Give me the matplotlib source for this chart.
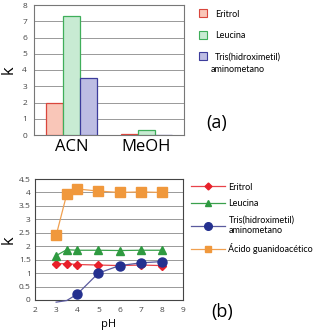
import numpy as np
import matplotlib
matplotlib.use("Agg")
import matplotlib.pyplot as plt
from matplotlib.lines import Line2D

# --- data: panel (a) ---
solvents = ["ACN", "MeOH"]
eritrol_k = [2.0, 0.08]
leucina_k = [7.3, 0.28]
tris_k = [3.5, 0.02]

# --- data: panel (b) ---
ph = [3, 3.5, 4, 5, 6, 7, 8]
eritrol_ph = [1.35, 1.35, 1.32, 1.30, 1.28, 1.30, 1.28]
leucina_ph = [1.65, 1.87, 1.85, 1.85, 1.84, 1.85, 1.85]
tris_ph = [-0.08, -0.02, 0.22, 1.0, 1.28, 1.38, 1.43]
guanido_ph = [2.4, 3.93, 4.13, 4.05, 4.0, 4.02, 4.0]

NARROW = ['Liberation Sans Narrow', 'Lato', 'DejaVu Sans']
plt.rcParams['font.family'] = ['Open Sans', 'DejaVu Sans']

fig = plt.figure(figsize=(3.16, 3.35), dpi=100)

# ---------- panel (a) ----------
ax1 = fig.add_axes([34/316, 1-135/335, 150/316, 130/335])
x = np.arange(len(solvents))
w = 0.227
ax1.bar(x - w, eritrol_k, w, color="#f9c6b8", edgecolor="#d9463c", linewidth=0.9, zorder=3)
ax1.bar(x, leucina_k, w, color="#c8ebd3", edgecolor="#3fae5a", linewidth=0.9, zorder=3)
ax1.bar(x + w, tris_k, w, color="#bdbde3", edgecolor="#3c3c9c", linewidth=0.9, zorder=3)
ax1.set_xlim(-0.507, 1.507)
ax1.set_ylim(0, 8)
ax1.set_yticks(range(0, 9))
ax1.set_xticks(x)
ax1.set_xticklabels(solvents, fontsize=12)
ax1.yaxis.grid(True, color="#999999", linewidth=0.7, zorder=0)
ax1.tick_params(axis='y', labelsize=6, length=0, pad=5, colors="#444444")
ax1.tick_params(axis='x', length=0, pad=3)
for s in ax1.spines.values():
    s.set_color("#777777")
    s.set_linewidth(0.8)
ax1.set_ylabel("k", fontsize=12, labelpad=4)

h_a = [Line2D([], [], marker='s', linestyle='none', markersize=6,
              markerfacecolor=fc, markeredgecolor=ec, markeredgewidth=0.8)
       for fc, ec in [("#f9c6b8", "#d9463c"), ("#c8ebd3", "#3fae5a"), ("#bdbde3", "#3c3c9c")]]
leg_a = fig.legend(h_a, ["Eritrol", "Leucina", "Tris(hidroximetil)"],
                   loc='upper left', bbox_to_anchor=(194/316, 1-5/335), frameon=False,
                   prop={'family': NARROW, 'size': 6.5}, handlelength=1.0,
                   handletextpad=0.8, labelspacing=1.38, borderpad=0)
fig.text(211/316, 1-69/335, "aminometano", family=NARROW, fontsize=6.5,
         ha='left', va='center')
fig.text(217/316, 1-123/335, "(a)", fontsize=13, ha='center', va='center')

# ---------- panel (b) ----------
ax2 = fig.add_axes([35/316, 1-300/335, 148/316, 121/335])
ax2.plot(ph, eritrol_ph, color="#e8434a", marker='D', markersize=4,
         markerfacecolor="#e8202a", markeredgecolor="#e8202a", linewidth=0.9, zorder=3)
ax2.plot(ph, leucina_ph, color="#3aa04c", marker='^', markersize=5.5,
         markerfacecolor="#2e9a40", markeredgecolor="#2e9a40", linewidth=0.9, zorder=3)
ax2.plot(ph, tris_ph, color="#5a5a9e", marker='o', markersize=6.5, markevery=slice(2, None),
         markerfacecolor="#24308f", markeredgecolor="#24308f", linewidth=0.9, zorder=4,
         clip_on=False)
ax2.plot(ph, guanido_ph, color="#f0a050", marker='s', markersize=6.5,
         markerfacecolor="#f0983c", markeredgecolor="#f0983c", linewidth=0.9, zorder=3)
ax2.set_xlim(2, 9)
ax2.set_ylim(0, 4.5)
ax2.set_xticks(range(2, 10))
ax2.set_yticks(np.arange(0, 4.51, 0.5))
ax2.set_yticklabels(["0", "0.5", "1", "1.5", "2", "2.5", "3", "3.5", "4", "4.5"])
ax2.yaxis.grid(True, color="#999999", linewidth=0.7, zorder=0)
ax2.tick_params(axis='both', labelsize=6, length=0, colors="#444444")
ax2.tick_params(axis='x', pad=5)
ax2.tick_params(axis='y', pad=3)
for s in ax2.spines.values():
    s.set_color("#444444")
    s.set_linewidth(0.8)
ax2.set_xlabel("pH", fontsize=8, labelpad=4)
ax2.set_ylabel("k", fontsize=12, labelpad=2)

h_b = [Line2D([], [], color="#e8434a", marker='D', markersize=3.5,
              markerfacecolor="#e8202a", markeredgecolor="#e8202a", linewidth=0.9),
       Line2D([], [], color="#3aa04c", marker='^', markersize=5,
              markerfacecolor="#2e9a40", markeredgecolor="#2e9a40", linewidth=0.9),
       Line2D([], [], color="#5a5a9e", marker='o', markersize=5.5,
              markerfacecolor="#24308f", markeredgecolor="#24308f", linewidth=0.9),
       Line2D([], [], color="#f0a050", marker='s', markersize=5,
              markerfacecolor="#f0983c", markeredgecolor="#f0983c", linewidth=0.9)]
fig.legend(h_b, ["Eritrol", "Leucina", "Tris(hidroximetil)\naminometano", "Ácido guanidoacético"],
           loc='upper left', bbox_to_anchor=(186/316, 1-178/335), frameon=False,
           prop={'family': NARROW, 'size': 6.5}, handlelength=3.8,
           handletextpad=0.4, labelspacing=0.85, borderpad=0)
fig.text(222/316, 1-312/335, "(b)", fontsize=13, ha='center', va='center')

fig.savefig("out.png", dpi=100)
